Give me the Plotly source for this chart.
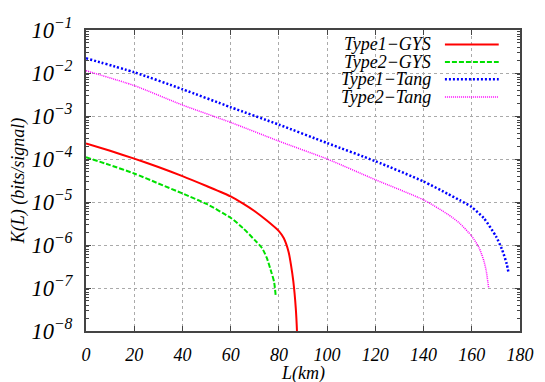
import plotly.graph_objects as go

# curves (distance in km, key rate in bits/signal)
type1_gys_km = [0, 10, 20, 30, 40, 50, 60, 65, 70, 75, 80, 82, 84, 85, 86, 87, 87.5, 88]
type1_gys = [2.3e-4, 1.55e-4, 1.02e-4, 6.5e-5, 4.0e-5, 2.35e-5, 1.35e-5, 9.3e-6, 6.1e-6,
             3.7e-6, 2.1e-6, 1.45e-6, 7e-7, 3.5e-7, 1.4e-7, 3.4e-8, 1e-8, 1e-9]

type2_gys_km = [0, 10, 20, 30, 40, 50, 60, 65, 70, 73, 75, 77, 78, 78.7]
type2_gys = [1.1e-4, 7.2e-5, 4.6e-5, 2.7e-5, 1.58e-5, 9e-6, 4.3e-6, 2.5e-6, 1.3e-6,
             8.5e-7, 5e-7, 2.2e-7, 1.4e-7, 6.5e-8]

type1_tang_km = [0, 20, 40, 60, 80, 100, 120, 140, 150, 155, 160, 165, 170, 172.5, 174.5, 175.3]
type1_tang = [2.2e-2, 1.04e-2, 4.2e-3, 1.6e-3, 6.3e-4, 2.35e-4, 8.9e-5, 3.0e-5, 1.55e-5,
              1.1e-5, 7.6e-6, 4.2e-6, 1.6e-6, 8e-7, 3.6e-7, 2.2e-7]

type2_tang_km = [0, 20, 40, 60, 80, 100, 120, 140, 150, 155, 160, 163, 165, 166, 167]
type2_tang = [1.13e-2, 5.1e-3, 1.8e-3, 7.1e-4, 2.6e-4, 1.0e-4, 3.3e-5, 1.12e-5, 5.2e-6,
              3.2e-6, 1.6e-6, 8.7e-7, 4.3e-7, 2.5e-7, 1e-7]

names = ['Type1\u2212GYS', 'Type2\u2212GYS', 'Type1\u2212Tang', 'Type2\u2212Tang']
colors = ['#ff0000', '#00e000', '#0000ff', '#ff00ff']
dashes = ['solid', '5px,2px', '2px,2px', '1px,1px']
widths = [2, 2, 2.5, 1.5]

FONT = 'Liberation Serif'
series = [(type1_gys_km, type1_gys), (type2_gys_km, type2_gys),
          (type1_tang_km, type1_tang), (type2_tang_km, type2_tang)]

fig = go.Figure()
for (x, y), name, c, d, w in zip(series, names, colors, dashes, widths):
    fig.add_trace(go.Scatter(x=x, y=y, mode='lines', name=name,
                             line=dict(color=c, dash=d, width=w, shape='spline', smoothing=0.6)))

tfont = dict(family=FONT, size=18, style='italic', color='black')

# legend drawn by hand: text right aligned, sample line on the right
row_y = [0.952, 0.894, 0.836, 0.777]
for name, c, d, w, ry in zip(names, colors, dashes, widths, row_y):
    fig.add_annotation(xref='paper', yref='paper', x=0.80, y=ry, text=name,
                       showarrow=False, xanchor='right', yanchor='middle', font=tfont)
    fig.add_shape(type='line', xref='paper', yref='paper', x0=0.827, x1=0.951,
                  y0=ry, y1=ry, line=dict(color=c, dash=d, width=w))

# x axis title placed under the tick labels
fig.add_annotation(xref='paper', yref='paper', x=0.5, y=-0.14, text='L(km)',
                   showarrow=False, xanchor='center', yanchor='middle', font=tfont)

axis_line = '#444444'
fig.update_xaxes(range=[0, 180], dtick=20, showline=True, linecolor=axis_line,
                 linewidth=2, mirror='allticks', ticks='inside', ticklen=5,
                 tickcolor=axis_line, showgrid=True, gridcolor='#aaaaaa',
                 griddash='dot', gridwidth=1, zeroline=False, ticklabelstandoff=6,
                 automargin=False, tickfont=tfont)
fig.update_yaxes(type='log', range=[-8, -1], dtick=1, exponentformat='power',
                 showline=True, linecolor=axis_line, linewidth=2, mirror='allticks',
                 ticks='inside', ticklen=5, tickcolor=axis_line, showgrid=True,
                 gridcolor='#aaaaaa', griddash='dot', gridwidth=1, zeroline=False,
                 ticklabelstandoff=8, automargin=False,
                 minor=dict(ticks='inside', ticklen=3, dtick='D1', tickcolor=axis_line,
                            showgrid=False),
                 tickfont=tfont,
                 title=dict(text='K(L) (bits/signal)', standoff=6, font=tfont))

fig.update_layout(width=545, height=382, showlegend=False,
                  margin=dict(l=78, r=33, t=22, b=59),
                  paper_bgcolor='white', plot_bgcolor='white')

fig.write_html("out.html")
